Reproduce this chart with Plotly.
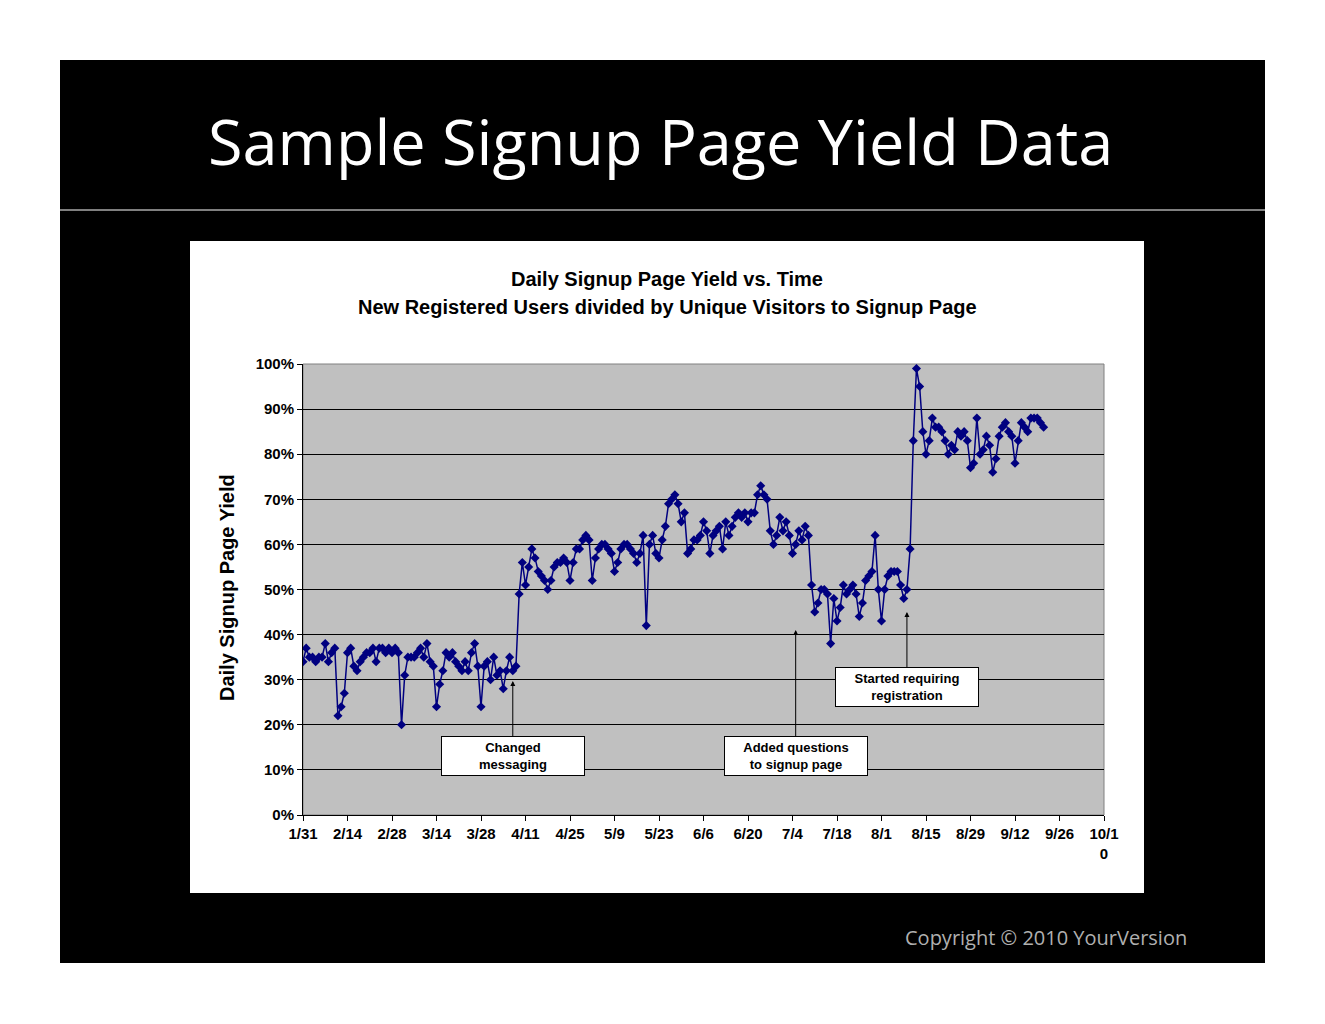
import plotly.graph_objects as go
import pandas as pd

start_date = "2010-01-31"
yield_pct = [
34,37,35,35,34,35,35,38,34,36,37,22,24,27,
36,37,33,32,34,35,36,36,37,34,37,37,36,37,
36,37,36,20,31,35,35,35,36,37,35,38,34,33,
24,29,32,36,35,36,34,33,32,34,32,36,38,33,
24,33,34,30,35,31,32,28,32,35,32,33,49,56,
51,55,59,57,54,53,52,50,52,55,56,56,57,56,
52,56,59,59,61,62,61,52,57,59,60,60,59,58,
54,56,59,60,60,59,58,56,58,62,42,60,62,58,
57,61,64,69,70,71,69,65,67,58,59,61,61,62,
65,63,58,62,63,64,59,65,62,64,66,67,66,67,
65,67,67,71,73,71,70,63,60,62,66,63,65,62,
58,60,63,61,64,62,51,45,47,50,50,49,38,48,
43,46,51,49,50,51,49,44,47,52,53,54,62,50,
43,50,53,54,54,54,51,48,50,59,83,99,95,85,
80,83,88,86,86,85,83,80,82,81,85,84,85,83,
77,78,88,80,81,84,82,76,79,84,86,87,85,84,
78,83,87,86,85,88,88,88,87,86]
dates = pd.date_range(start_date, periods=len(yield_pct), freq="D")
tick_dates = pd.date_range("2010-01-31", "2010-10-10", freq="14D")
tick_labels = ["1/31","2/14","2/28","3/14","3/28","4/11","4/25","5/9","5/23","6/6",
               "6/20","7/4","7/18","8/1","8/15","8/29","9/12","9/26","10/1<br>0"]
notes = [("2010-04-07", 29.7, "Changed<br>messaging", 75),
         ("2010-07-05", 41, "Added questions<br>to signup page", 126),
         ("2010-08-09", 45, "Started requiring<br>registration", 75)]

fig = go.Figure(go.Scatter(x=dates, y=[v/100 for v in yield_pct], mode="lines+markers",
    line=dict(color="#000080", width=1.5),
    marker=dict(symbol="diamond", size=7, color="#000080")))

W, H = 1325, 1024
OFF = 8
L, R, T, B = 303, 1104, 364, 815
px = lambda x: (x-L)/(R-L)
py = lambda y: (B-y)/(B-T)

shapes = [
    dict(type="rect", xref="paper", yref="paper", x0=px(60), x1=px(1265), y0=py(963), y1=py(60),
         fillcolor="black", line=dict(width=0), layer="below"),
    dict(type="line", xref="paper", yref="paper", x0=px(60), x1=px(1265), y0=py(210), y1=py(210),
         line=dict(color="white", width=1), layer="below"),
    dict(type="rect", xref="paper", yref="paper", x0=px(190), x1=px(1144), y0=py(893), y1=py(241),
         fillcolor="white", line=dict(width=0), layer="below"),
    dict(type="rect", xref="paper", yref="paper", x0=0, x1=1, y0=0, y1=1,
         fillcolor="#C0C0C0", line=dict(color="#808080", width=1), layer="below"),
]
C = dict(xanchor="center", yanchor="middle", showarrow=False, xref="paper", yref="paper")
ann = [
    dict(text="Sample Signup Page Yield Data", x=px(660), y=py(140),
         font=dict(family="Open Sans", size=63, color="white"), **C),
    dict(text="<b>Daily Signup Page Yield vs. Time</b>", x=px(667), y=py(279),
         font=dict(family="Liberation Sans", size=20, color="black"), **C),
    dict(text="<b>New Registered Users divided by Unique Visitors to Signup Page</b>",
         x=px(667), y=py(307), font=dict(family="Liberation Sans", size=20, color="black"), **C),
    dict(text="<b>Daily Signup Page Yield</b>", x=px(227), y=py(588),
         textangle=-90, font=dict(family="Liberation Sans", size=20, color="black"), **C),
    dict(text="Copyright © 2010 YourVersion", x=px(1046), y=py(937),
         font=dict(family="Open Sans", size=20, color="#b0b0b0"), **C),
]
for d, v, t, ay in notes:
    ann.append(dict(x=d, y=v/100, xref="x", yref="y", text="<b>"+t+"</b>", showarrow=True,
        ax=0, ay=ay, arrowhead=2, arrowsize=1, arrowwidth=1, arrowcolor="black",
        bgcolor="white", bordercolor="black", borderwidth=1, width=140, height=36,
        font=dict(family="Liberation Sans", size=13, color="black")))

fig.update_layout(width=W, height=H, margin=dict(l=L-OFF, r=W-R+OFF, t=T-OFF, b=H-B+OFF),
    paper_bgcolor="white", plot_bgcolor="#C0C0C0", showlegend=False,
    shapes=shapes, annotations=ann,
    font=dict(family="Liberation Sans", size=15, color="black"))
fig.update_xaxes(range=[pd.Timestamp("2010-01-31"), pd.Timestamp("2010-10-10")],
    tickvals=tick_dates, ticktext=["<b>"+t+"</b>" for t in tick_labels],
    showgrid=False, showline=True, linecolor="black", ticks="outside", ticklen=5, tickcolor="black")
fig.update_yaxes(range=[0, 1], dtick=0.1, tickformat=".0%", showgrid=True, gridcolor="black",
    gridwidth=1, showline=True, linecolor="black", ticks="outside", ticklen=5, tickcolor="black",
    tickprefix="<b>", ticksuffix="</b>", zeroline=False)
fig.write_html("out.html")
